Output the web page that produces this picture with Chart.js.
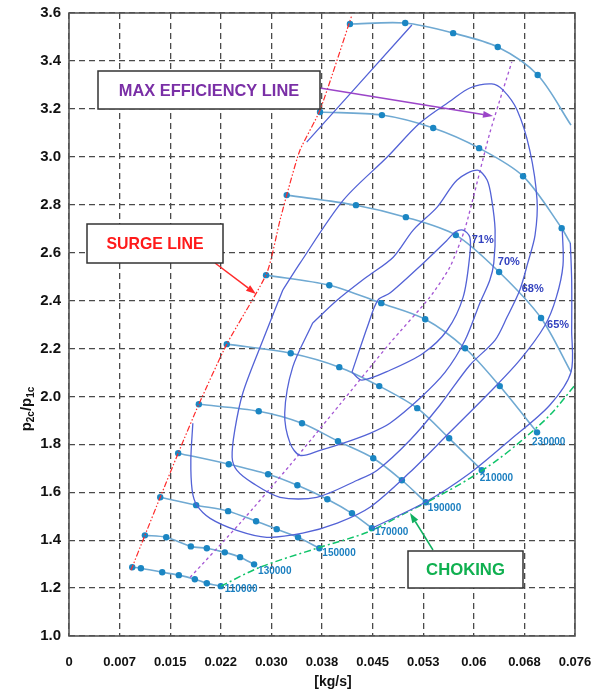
<!DOCTYPE html>
<html>
<head>
<meta charset="utf-8">
<script src="https://cdn.jsdelivr.net/npm/chart.js"></script>
<style>
  html, body { margin: 0; padding: 0; background: #fff; }
</style>
</head>
<body>
<canvas id="map" width="593" height="691"></canvas>
<script>
// ---- axis ticks ----
const xTickLabels = ['0', '0.007', '0.015', '0.022', '0.030', '0.038', '0.045', '0.053', '0.06', '0.068', '0.076'];
const xTickValues = [0, 0.0076, 0.0152, 0.0228, 0.0304, 0.038, 0.0456, 0.0532, 0.0608, 0.0684, 0.076];
const yTickValues = [1.0, 1.2, 1.4, 1.6, 1.8, 2.0, 2.2, 2.4, 2.6, 2.8, 3.0, 3.2, 3.4, 3.6];

// ---- speed lines [mass flow kg/s, pressure ratio] ----
const speedLabels = ['110000', '130000', '150000', '170000', '190000', '210000', '230000'];
const n110 = [[0.0095,1.287],[0.0108,1.283],[0.0140,1.266],[0.0165,1.254],[0.0189,1.237],[0.0207,1.220],[0.0228,1.208]];
const n130 = [[0.0114,1.420],[0.0146,1.412],[0.0183,1.374],[0.0207,1.366],[0.0234,1.349],[0.0257,1.329],[0.0278,1.299]];
const n150 = [[0.0137,1.579],[0.0191,1.546],[0.0239,1.521],[0.0281,1.479],[0.0312,1.446],[0.0344,1.412],[0.0376,1.366]];
const n170 = [[0.0164,1.763],[0.0240,1.717],[0.0299,1.675],[0.0343,1.629],[0.0388,1.571],[0.0425,1.512],[0.0455,1.450]];
const n190 = [[0.0195,1.967],[0.0285,1.938],[0.0350,1.888],[0.0404,1.813],[0.0457,1.742],[0.0500,1.650],[0.0536,1.558]];
const n210 = [[0.0237,2.218],[0.0333,2.180],[0.0406,2.122],[0.0466,2.043],[0.0523,1.951],[0.0571,1.825],[0.0620,1.692]];
const n230 = [[0.0296,2.506],[0.0391,2.464],[0.0469,2.389],[0.0535,2.322],[0.0595,2.201],[0.0647,2.043],[0.0703,1.850]];
// upper speed lines (no label in the figure), last point is the open end
const nTop3 = [[0.0327,2.840],[0.0431,2.798],[0.0506,2.748],[0.0581,2.673],[0.0646,2.519],[0.0709,2.327],[0.0754,2.101]];
const nTop2 = [[0.0377,3.187],[0.0470,3.174],[0.0547,3.120],[0.0616,3.036],[0.0682,2.919],[0.0740,2.702],[0.0753,2.640]];
const nTop1 = [[0.0422,3.554],[0.0505,3.558],[0.0577,3.516],[0.0644,3.458],[0.0704,3.341],[0.0754,3.132]];

// ---- boundary lines ----
const surgeLine = [[0.0093,1.274],[0.0114,1.420],[0.0137,1.579],[0.0164,1.763],[0.0195,1.967],[0.0237,2.218],[0.0297,2.514],[0.0317,2.736],[0.0332,2.890],[0.0347,3.028],[0.0377,3.195],[0.0425,3.592]];
const chokeLine = [[0.0228,1.208],[0.0287,1.287],[0.0372,1.366],[0.0448,1.433],[0.0508,1.517],[0.0557,1.587],[0.0602,1.658],[0.0643,1.734],[0.0677,1.809],[0.0722,1.921],[0.0760,2.047]];
const maxEffLine = [[0.0182,1.245],[0.0257,1.471],[0.0332,1.713],[0.0407,1.967],[0.0482,2.222],[0.0542,2.414],[0.0572,2.539],[0.0595,2.702],[0.0632,3.099],[0.0665,3.395]];

// ---- efficiency contours ----
const eff71 = [[0.0425,2.101],[0.0440,2.068],[0.0482,2.109],[0.0532,2.180],[0.0568,2.276],[0.0592,2.414],[0.0602,2.590],[0.0602,2.665],[0.0592,2.694],[0.0580,2.686],[0.0568,2.652],[0.0532,2.556],[0.0482,2.431],[0.0464,2.402],[0.0449,2.297],[0.0425,2.101]];
const eff70 = [[0.0366,2.306],[0.0403,2.402],[0.0445,2.494],[0.0487,2.581],[0.0517,2.694],[0.0553,2.790],[0.0583,2.903],[0.0613,2.944],[0.0628,2.903],[0.0635,2.819],[0.0640,2.694],[0.0638,2.556],[0.0632,2.485],[0.0617,2.389],[0.0595,2.235],[0.0565,2.101],[0.0527,1.992],[0.0482,1.888],[0.0452,1.846],[0.0412,1.805],[0.0377,1.775],[0.0347,1.754],[0.0332,1.805],[0.0324,1.930],[0.0336,2.122],[0.0366,2.306]];
const eff68 = [[0.0321,2.443],[0.0347,2.556],[0.0412,2.819],[0.0478,2.999],[0.0527,3.141],[0.0575,3.237],[0.0602,3.287],[0.0635,3.304],[0.0652,3.278],[0.0673,3.195],[0.0692,3.028],[0.0703,2.819],[0.0700,2.673],[0.0689,2.556],[0.0677,2.443],[0.0658,2.331],[0.0640,2.235],[0.0602,2.130],[0.0557,1.963],[0.0512,1.817],[0.0463,1.692],[0.0433,1.650],[0.0372,1.579],[0.0317,1.579],[0.0276,1.638],[0.0252,1.692],[0.0245,1.746],[0.0249,1.859],[0.0261,2.013],[0.0287,2.205],[0.0321,2.443]];
const eff65 = [[0.0186,1.888],[0.0183,1.734],[0.0185,1.608],[0.0192,1.546],[0.0212,1.491],[0.0252,1.441],[0.0297,1.412],[0.0351,1.429],[0.0403,1.471],[0.0452,1.537],[0.0512,1.683],[0.0572,1.850],[0.0632,2.017],[0.0677,2.151],[0.0715,2.297],[0.0732,2.414],[0.0742,2.548],[0.0741,2.690]];
const effOuterChoke = [[0.0455,1.450],[0.0535,1.558],[0.0602,1.679],[0.0662,1.817],[0.0722,1.963],[0.0754,2.101],[0.0755,2.276],[0.0755,2.485],[0.0753,2.640]];
const effOuterSurge = [[0.0357,3.061],[0.0515,3.550]];
const effLabels = ['71%', '70%', '68%', '65%'];
const effLabelPos = [[0.0605,2.652],[0.0644,2.560],[0.0680,2.448],[0.0718,2.297]];

const pts = a => a.map(p => ({ x: p[0], y: p[1] }));

const SPEED_LINE = '#6fa9d2', SPEED_DOT = '#1b86c3', CONTOUR = '#5362d6';

const speedSets = [n110, n130, n150, n170, n190, n210, n230].map(a => ({
  data: pts(a), borderColor: SPEED_LINE, borderWidth: 1.6, tension: 0.3,
  pointRadius: 3.2, pointBackgroundColor: SPEED_DOT, pointBorderWidth: 0
}));
const upperSets = [nTop3, nTop2, nTop1].map(a => ({
  data: pts(a), borderColor: SPEED_LINE, borderWidth: 1.6, tension: 0.3,
  pointRadius: c => (c.dataIndex === a.length - 1 ? 0 : 3.2),
  pointBackgroundColor: SPEED_DOT, pointBorderWidth: 0
}));
const contourSets = [eff71, eff70, eff68, eff65, effOuterChoke, effOuterSurge].map(a => ({
  data: pts(a), borderColor: CONTOUR, borderWidth: 1.3, tension: 0.3, pointRadius: 0
}));

const datasets = [
  ...contourSets,
  { data: pts(maxEffLine), borderColor: '#a455d4', borderWidth: 1.3, borderDash: [3, 3], tension: 0.2, pointRadius: 0 },
  { data: pts(surgeLine), borderColor: '#ff2a2a', borderWidth: 1.2, borderDash: [6, 2, 1.5, 2, 1.5, 2], tension: 0.2, pointRadius: 0 },
  { data: pts(chokeLine), borderColor: '#10c46a', borderWidth: 1.5, borderDash: [7, 3, 2, 3], tension: 0.3, pointRadius: 0 },
  ...upperSets,
  ...speedSets
];

function arrow(ctx, x1, y1, x2, y2, color) {
  const a = Math.atan2(y2 - y1, x2 - x1), L = 10, W = 3.5;
  ctx.strokeStyle = color; ctx.fillStyle = color; ctx.lineWidth = 1.5;
  ctx.beginPath(); ctx.moveTo(x1, y1);
  ctx.lineTo(x2 - L * Math.cos(a), y2 - L * Math.sin(a)); ctx.stroke();
  ctx.beginPath(); ctx.moveTo(x2, y2);
  ctx.lineTo(x2 - L * Math.cos(a) + W * Math.sin(a), y2 - L * Math.sin(a) - W * Math.cos(a));
  ctx.lineTo(x2 - L * Math.cos(a) - W * Math.sin(a), y2 - L * Math.sin(a) + W * Math.cos(a));
  ctx.closePath(); ctx.fill();
}

function labelBox(ctx, x1, y1, x2, y2, text, color, targetW) {
  ctx.fillStyle = '#fff'; ctx.fillRect(x1, y1, x2 - x1, y2 - y1);
  ctx.strokeStyle = '#333'; ctx.lineWidth = 1.5; ctx.strokeRect(x1, y1, x2 - x1, y2 - y1);
  ctx.font = 'bold 100px "Liberation Sans", Arial, sans-serif';
  const size = 100 * targetW / ctx.measureText(text).width;
  ctx.font = 'bold ' + size.toFixed(1) + 'px "Liberation Sans", Arial, sans-serif';
  ctx.fillStyle = color; ctx.textAlign = 'center'; ctx.textBaseline = 'middle';
  ctx.fillText(text, (x1 + x2) / 2, (y1 + y2) / 2 + 1);
}

const decor = {
  id: 'decor',
  afterDraw(chart) {
    const { ctx, chartArea: ca, scales: { x, y } } = chart;
    ctx.save();
    // plot frame
    ctx.strokeStyle = '#555'; ctx.lineWidth = 1.6; ctx.setLineDash([]);
    ctx.strokeRect(ca.left, ca.top, ca.right - ca.left, ca.bottom - ca.top);

    // speed labels at line ends
    const offs = [[4, 3], [4, 7], [3, 5], [3, 4], [2, 6], [-2, 8], [-5, 10]];
    ctx.font = 'bold 10px "Liberation Sans", Arial, sans-serif';
    ctx.fillStyle = '#1b7fc0'; ctx.textAlign = 'left'; ctx.textBaseline = 'middle';
    [n110, n130, n150, n170, n190, n210, n230].forEach((a, i) => {
      const p = a[a.length - 1];
      ctx.fillText(speedLabels[i], x.getPixelForValue(p[0]) + offs[i][0], y.getPixelForValue(p[1]) + offs[i][1]);
    });

    // efficiency labels
    ctx.font = 'bold 11px "Liberation Sans", Arial, sans-serif';
    ctx.fillStyle = '#3342bf';
    effLabels.forEach((t, i) => {
      ctx.fillText(t, x.getPixelForValue(effLabelPos[i][0]), y.getPixelForValue(effLabelPos[i][1]));
    });

    // annotation boxes + arrows
    arrow(ctx, 320, 88, 493, 116, '#9b45c8');
    labelBox(ctx, 98, 71, 320, 109, 'MAX EFFICIENCY LINE', '#7a2fa6', 180);
    arrow(ctx, 215, 263, 256, 294, '#ff2a2a');
    labelBox(ctx, 87, 224, 223, 263, 'SURGE LINE', '#ff1a1a', 97);
    arrow(ctx, 433, 550, 410, 513, '#10b060');
    labelBox(ctx, 408, 551, 523, 588, 'CHOKING', '#10b050', 79);

    // axis titles
    ctx.fillStyle = '#111';
    ctx.font = 'bold 14px "Liberation Sans", Arial, sans-serif';
    ctx.textAlign = 'center'; ctx.textBaseline = 'alphabetic';
    ctx.fillText('[kg/s]', 333, 686);

    ctx.translate(31, 409); ctx.rotate(-Math.PI / 2);
    const parts = [['p', 15, 0], ['2c', 10, 3], ['/p', 15, 0], ['1c', 10, 3]];
    let w = 0;
    parts.forEach(p => { ctx.font = 'bold ' + p[1] + 'px "Liberation Sans", Arial, sans-serif'; w += ctx.measureText(p[0]).width; });
    let cx = -w / 2;
    ctx.textAlign = 'left';
    parts.forEach(p => {
      ctx.font = 'bold ' + p[1] + 'px "Liberation Sans", Arial, sans-serif';
      ctx.fillText(p[0], cx, p[2]);
      cx += ctx.measureText(p[0]).width;
    });
    ctx.restore();
  }
};

new Chart(document.getElementById('map'), {
  type: 'scatter',
  data: { datasets: datasets.map(d => Object.assign({ showLine: true, fill: false }, d)) },
  options: {
    responsive: false,
    animation: false,
    devicePixelRatio: 1,
    layout: { padding: { top: 13, right: 18, left: 0, bottom: 0 } },
    plugins: { legend: { display: false }, tooltip: { enabled: false } },
    scales: {
      x: {
        type: 'linear', min: 0, max: 0.076,
        afterBuildTicks: s => { s.ticks = xTickValues.map(v => ({ value: v })); },
        afterFit: s => { s.height = 55; s.paddingLeft = 0; s.paddingRight = 0; },
        ticks: {
          callback: (v, i) => xTickLabels[i], padding: 19, maxRotation: 0, autoSkip: false,
          color: '#111', font: { family: '"Liberation Sans", Arial, sans-serif', size: 13, weight: 'bold' }
        },
        grid: { color: '#4a4a4a', lineWidth: 1.3, drawTicks: false },
        border: { display: false, dash: [6, 4] }
      },
      y: {
        type: 'linear', min: 1.0, max: 3.6,
        afterBuildTicks: s => { s.ticks = yTickValues.map(v => ({ value: v })); },
        afterFit: s => { s.width = 69; s.paddingTop = 0; s.paddingBottom = 0; },
        ticks: {
          callback: v => v.toFixed(1), padding: 8, autoSkip: false,
          color: '#111', font: { family: '"Liberation Sans", Arial, sans-serif', size: 15, weight: 'bold' }
        },
        grid: { color: '#4a4a4a', lineWidth: 1.3, drawTicks: false },
        border: { display: false, dash: [6, 4] }
      }
    }
  },
  plugins: [decor]
});
</script>
</body>
</html>
